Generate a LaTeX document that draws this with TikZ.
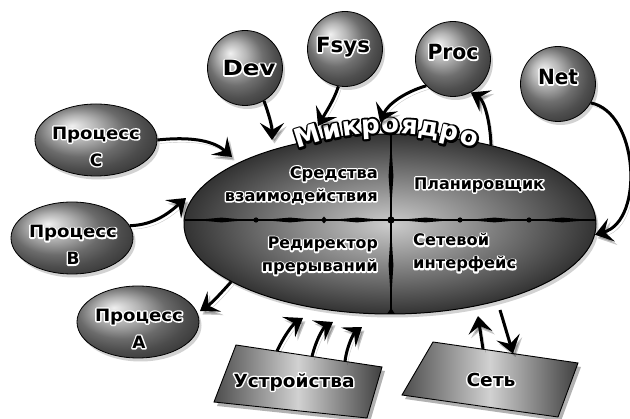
\documentclass[tikz,border=0pt]{standalone}
\usepackage{fontspec}
\usepackage{graphicx}
\setmainfont{DejaVu Sans}
\usetikzlibrary{arrows.meta,shapes.geometric,shadows}
% outlined text: stroked copy underneath, filled copy on top
\newcommand\olx[4]{{\leavevmode\rlap{\special{pdf:code q #2 RG #3 w 1 j 1 Tr}#4\special{pdf:code 0 Tr Q}}\color{#1}#4}}
\newcommand\bw[1]{\olx{black}{1 1 1}{2.8}{#1}}
% set text at a given width (horizontal scaling only)
\newcommand\fw[2]{\setbox2=\hbox{#2}\pgfmathsetmacro\fwf{#1/\the\wd2}\scalebox{\fwf}[1]{#2}}
\newcommand\bwf[2]{\fw{#1}{\bw{#2}}}
\tikzset{
  sh/.style={drop shadow={opacity=0.35, shadow xshift=2.5pt, shadow yshift=-3.5pt}},
  ballnode/.style={circle, draw=black, line width=0.8pt, shade, ball color=black!38, minimum size=75pt, inner sep=0pt, sh},
  procnode/.style={ellipse, draw=black, line width=0.8pt, shade, ball color=black!40, minimum width=122pt, minimum height=72pt, inner sep=0pt, sh},
  lbl/.style={font=\bfseries\fontsize{16}{23}\selectfont, inner sep=0pt},
  plbl/.style={font=\bfseries\fontsize{17}{27}\selectfont, inner sep=0pt, align=center},
  blbl/.style={font=\bfseries\fontsize{21}{24}\selectfont, inner sep=0pt},
  rlbl/.style={font=\bfseries\fontsize{18}{20}\selectfont, inner sep=0pt},
  arr/.style={line width=3pt, -{Stealth[length=17pt,width=24pt,inset=7pt]},
    preaction={draw=black, opacity=0.22, transform canvas={shift={(2.5pt,-3.5pt)}}}},
  boxshade/.style={left color=black!70, right color=black!75, middle color=black!18, draw=black, line width=0.9pt},
  bshadow/.style={fill=black, opacity=0.3}
}
\begin{document}
\begin{tikzpicture}[x=1pt,y=-1pt]
\useasboundingbox (0,0) rectangle (630,419);
\fill[white] (0,0) rectangle (630,419);

% main ellipse
\node[ellipse, draw=black, line width=1pt, shade, inner color=black!20, outer color=black!80,
  minimum width=412pt, minimum height=180pt, inner sep=0pt, sh] (k) at (390,224) {};

% dividers
\draw[line width=1.1pt] (185,220) -- (596,220);
\draw[line width=1.1pt] (391,133) -- (391,313);
\foreach \a/\b in {195/248,262/318,330/384,398/453,467/522,535/590}{
  \fill (\a,220) -- ({(\a+\b)/2},217.6) -- (\b,220) -- ({(\a+\b)/2},222.4) -- cycle;}
\foreach \a/\b in {140/212,228/302}{
  \fill (391,\a) -- (388.6,{(\a+\b)/2}) -- (391,\b) -- (393.4,{(\a+\b)/2}) -- cycle;}
\foreach \x in {256,460,529}{\fill (\x,220) circle (2.6pt);}
\fill (324,216.5) -- (327,220) -- (324,223.5) -- (321,220) -- cycle;
\fill (391,220) circle (3.6pt);
\fill (391,308) -- (395,314) -- (387,314) -- cycle;

% ellipse labels
\node[lbl, anchor=east, align=right] (ls) at (378,185) {\bwf{88}{Средства}\\\bwf{153}{взаимодействия}};
\node[lbl] (lp) at (479,185) {\bwf{130}{Планировщик}};
\node[lbl, anchor=east, align=right] (lr) at (378,256) {\bwf{110}{Редиректор}\\\bwf{116}{прерываний}};
\node[lbl, anchor=west, align=left] (ln) at (413,253) {\bwf{76}{Сетевой}\\\bwf{103}{интерфейс}};

% title along arc
\foreach \ch/\x in {М/310,и/333,к/352,р/371,о/390,я/409,д/428,р/448,о/467}{
  \pgfmathsetmacro\ph{asin((\x-388)/260)}
  \node[anchor=base, rotate=-\ph, inner sep=0pt, font=\bfseries\fontsize{26}{26}\selectfont] (mk\x)
    at ({388+260*sin(\ph)},{393-260*cos(\ph)}) {\olx{white}{0 0 0}{4}{\ch}};
}

% process ellipses
\node[procnode] (pc) at (96,140) {};
\node[procnode] (pb) at (72,238) {};
\node[procnode] (pa) at (138,322) {};
\node[plbl] (tc) at (96,146.5) {\bwf{88}{Процесс}\\\bw{С}};
\node[plbl] (tb) at (73,245) {\bwf{88}{Процесс}\\\bw{В}};
\node[plbl] (ta) at (139,328.5) {\bwf{88}{Процесс}\\\bw{А}};

% balls
\node[ballnode] (dv) at (245,68) {};
\node[ballnode] (fs) at (345,49) {};
\node[ballnode] (pr) at (453,59) {};
\node[ballnode] (nt) at (558,84) {};
\node[blbl] (tdv) at (249,68) {\bwf{53}{Dev}};
\node[blbl] (tfs) at (343,47) {\bwf{54}{Fsys}};
\node[blbl] (tpr) at (453,52) {\bwf{51}{Proc}};
\node[blbl] (tnt) at (558,77) {\bwf{40}{Net}};

% boxes
\coordinate (u1) at (236,345); \coordinate (u2) at (382,367);
\coordinate (u3) at (367,418); \coordinate (u4) at (214,402);
\coordinate (s1) at (433,342); \coordinate (s2) at (578,363);
\coordinate (s3) at (558,417); \coordinate (s4) at (402,395);
\fill[bshadow, transform canvas={shift={(3pt,-4pt)}}] (u1) -- (u2) -- (u3) -- (u4) -- cycle;
\fill[bshadow, transform canvas={shift={(3pt,-4pt)}}] (s1) -- (s2) -- (s3) -- (s4) -- cycle;
\shade[boxshade] (u1) -- (u2) -- (u3) -- (u4) -- cycle;
\shade[boxshade] (s1) -- (s2) -- (s3) -- (s4) -- cycle;
\node[rlbl] (tu) at (294,382) {\bwf{121}{Устройства}};
\node[rlbl] (ts) at (491,380) {\bwf{49}{Сеть}};

% arrow end points
\coordinate (tC) at (232,157);
\coordinate (tB) at (186,198);
\coordinate (tA) at (200,311);
\coordinate (tD) at (272,140);
\coordinate (tF) at (318,126);
\coordinate (tP) at (380,122);
\coordinate (ua) at (277,351); \coordinate (ub) at (312,356.5); \coordinate (uc) at (345,361.5);
\coordinate (t1) at (303,318); \coordinate (t2) at (333,322); \coordinate (t3) at (362,327);
\coordinate (sa) at (483,349); \coordinate (sb) at (513,353.5);
\coordinate (tS1) at (478,316); \coordinate (tS2) at (500,310);

% arrows
\draw[arr] (pc.east) .. controls (195,136) and (215,142) .. (tC);
\draw[arr] (pb.12) .. controls (155,225) and (170,212) .. (tB);
\draw[arr] (k.200) .. controls (222,292) and (212,303) .. (tA);
\draw[arr] (dv.-60) .. controls (268,112) and (272,125) .. (tD);
\draw[arr] (fs.-100) .. controls (334,100) and (326,112) .. (tF);
\draw[arr] (pr.225) .. controls (405,92) and (388,104) .. (tP);
\draw[arr] (k.38) .. controls (490,120) and (484,100) .. (pr.-62);
\draw[arr] (nt.-30) .. controls (638,112) and (645,220) .. (k.-3);
\draw[arr] (ua) .. controls (283,338) and (292,325) .. (t1);
\draw[arr] (ub) .. controls (316,340) and (323,328) .. (t2);
\draw[arr] (uc) .. controls (347,345) and (354,333) .. (t3);
\draw[arr] (sa) -- (tS1);
\draw[arr] (tS2) -- (sb);
\end{tikzpicture}
\end{document}
